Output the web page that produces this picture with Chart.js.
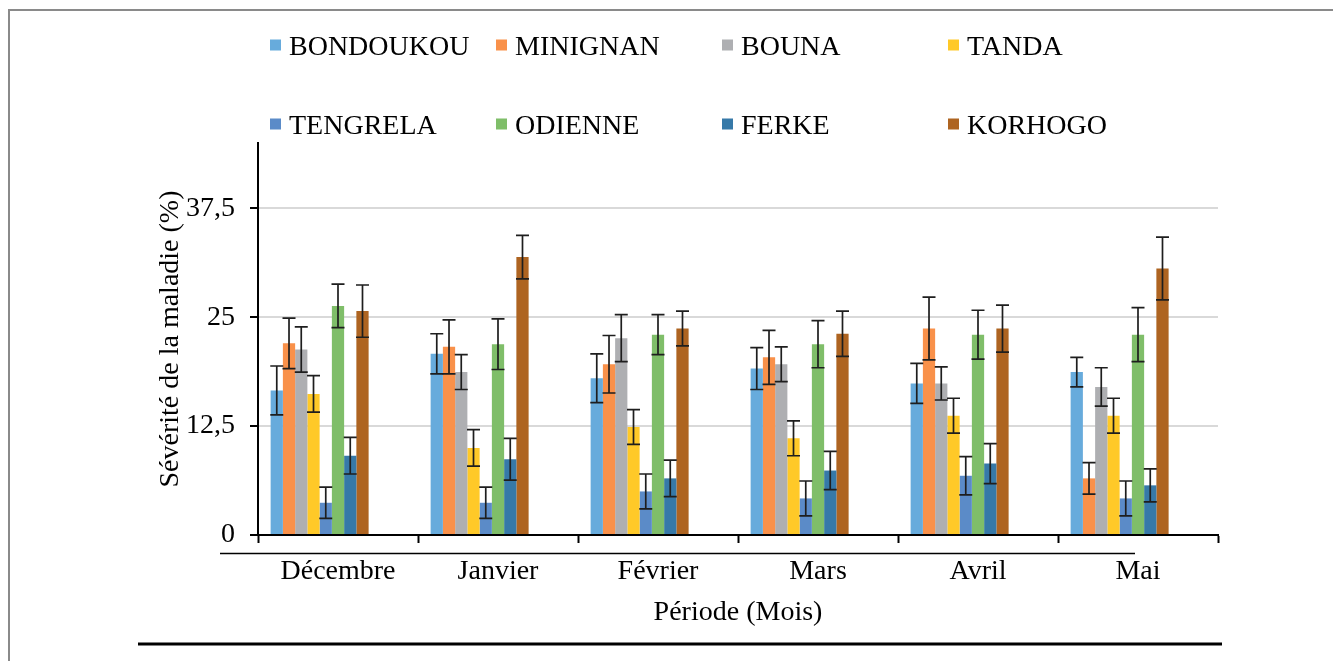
<!DOCTYPE html>
<html lang="fr">
<head>
<meta charset="utf-8">
<title>Sévérité de la maladie par période</title>
<script src="https://cdn.jsdelivr.net/npm/chart.js@4.4.1/dist/chart.umd.min.js"></script>
<style>
  html, body { margin: 0; padding: 0; background: #ffffff; }
  canvas { display: block; }
</style>
</head>
<body>
<canvas id="chart" width="1333" height="661"></canvas>
<script>
// Months on the x axis
const months = ['Décembre', 'Janvier', 'Février', 'Mars', 'Avril', 'Mai'];

// Y axis tick values
const yTicks = [0, 12.5, 25, 37.5];

// Mean severity (%) per locality and its standard error
const bondoukou    = [16.6, 20.8, 18.0, 19.1, 17.4, 18.7];
const bondoukouErr = [2.8, 2.3, 2.8, 2.4, 2.3, 1.7];
const minignan     = [22.0, 21.6, 19.6, 20.4, 23.7, 6.5];
const minignanErr  = [2.9, 3.1, 3.3, 3.1, 3.6, 1.8];
const bouna        = [21.3, 18.7, 22.6, 19.6, 17.4, 17.0];
const bounaErr     = [2.6, 2.0, 2.7, 2.0, 1.9, 2.2];
const tanda        = [16.2, 10.0, 12.4, 11.1, 13.7, 13.7];
const tandaErr     = [2.1, 2.1, 2.0, 2.0, 2.0, 2.0];
const tengrela     = [3.7, 3.7, 5.0, 4.2, 6.8, 4.2];
const tengrelaErr  = [1.8, 1.8, 2.0, 2.0, 2.2, 2.0];
const odienne      = [26.3, 21.9, 23.0, 21.9, 23.0, 23.0];
const odienneErr   = [2.5, 2.9, 2.3, 2.7, 2.8, 3.1];
const ferke        = [9.1, 8.7, 6.5, 7.4, 8.2, 5.7];
const ferkeErr     = [2.1, 2.4, 2.1, 2.2, 2.3, 1.9];
const korhogo      = [25.7, 31.9, 23.7, 23.1, 23.7, 30.6];
const korhogoErr   = [3.0, 2.5, 2.0, 2.6, 2.7, 3.6];

const series = [
  { label: 'BONDOUKOU', data: bondoukou, err: bondoukouErr, color: '#67abdc' },
  { label: 'MINIGNAN',  data: minignan,  err: minignanErr,  color: '#f9914a' },
  { label: 'BOUNA',     data: bouna,     err: bounaErr,     color: '#aeafb2' },
  { label: 'TANDA',     data: tanda,     err: tandaErr,     color: '#ffc928' },
  { label: 'TENGRELA',  data: tengrela,  err: tengrelaErr,  color: '#5b8bc8' },
  { label: 'ODIENNE',   data: odienne,   err: odienneErr,   color: '#7fbe69' },
  { label: 'FERKE',     data: ferke,     err: ferkeErr,     color: '#3679a8' },
  { label: 'KORHOGO',   data: korhogo,   err: korhogoErr,   color: '#ae6421' }
];

// Three empty slots after the eight localities keep each group to the left of its month band
const SPACERS = 3;

const FONT = "'Liberation Serif', 'Times New Roman', serif";
Chart.defaults.font.family = FONT;
Chart.defaults.color = '#000000';

const datasets = series.map(s => ({
  label: s.label,
  data: s.data,
  errors: s.err,
  backgroundColor: s.color,
  borderWidth: 0
}));
for (let k = 0; k < SPACERS; k++) {
  datasets.push({ label: '', data: months.map(() => null), spacer: true });
}

// Standard error whiskers drawn over every bar
const errorBars = {
  id: 'errorBars',
  afterDatasetsDraw(chart) {
    const { ctx } = chart;
    const y = chart.scales.y;
    ctx.save();
    ctx.strokeStyle = '#1e1e1e';
    ctx.lineWidth = 1.7;
    chart.data.datasets.forEach((ds, i) => {
      if (ds.spacer) return;
      const meta = chart.getDatasetMeta(i);
      meta.data.forEach((bar, j) => {
        const v = ds.data[j], e = ds.errors[j];
        const yt = y.getPixelForValue(v + e);
        const yb = y.getPixelForValue(v - e);
        const half = 6.5;
        ctx.beginPath();
        ctx.moveTo(bar.x, yt); ctx.lineTo(bar.x, yb);
        ctx.moveTo(bar.x - half, yt); ctx.lineTo(bar.x + half, yt);
        ctx.moveTo(bar.x - half, yb); ctx.lineTo(bar.x + half, yb);
        ctx.stroke();
      });
    });
    ctx.restore();
  }
};

// Two-row legend laid out on a fixed four-column grid
const gridLegend = {
  id: 'gridLegend',
  afterDraw(chart, args, opts) {
    const { ctx } = chart;
    ctx.save();
    ctx.font = `${opts.fontSize}px ${FONT}`;
    ctx.textBaseline = 'middle';
    ctx.textAlign = 'left';
    chart.data.datasets.filter(d => !d.spacer).forEach((ds, i) => {
      const col = i % opts.columns.length;
      const row = Math.floor(i / opts.columns.length);
      const x = opts.columns[col];
      const yc = opts.rows[row];
      ctx.fillStyle = ds.backgroundColor;
      ctx.fillRect(x, yc - opts.box / 2 - 3, opts.box, opts.box);
      ctx.fillStyle = '#000000';
      ctx.fillText(ds.label, x + opts.textGap, yc);
    });
    ctx.restore();
  }
};

// Page frame and rules around the figure
const pageRules = {
  id: 'pageRules',
  beforeDraw(chart) {
    const { ctx } = chart;
    ctx.save();
    ctx.fillStyle = '#ffffff';
    ctx.fillRect(0, 0, chart.width, chart.height);
    ctx.strokeStyle = '#8a8a8a';
    ctx.lineWidth = 2;
    ctx.beginPath();
    ctx.moveTo(9, chart.height); ctx.lineTo(9, 10); ctx.lineTo(chart.width, 10);
    ctx.stroke();
    ctx.restore();
  },
  afterDraw(chart) {
    const { ctx } = chart;
    ctx.save();
    ctx.strokeStyle = '#000000';
    ctx.lineWidth = 1.5;
    ctx.beginPath();
    ctx.moveTo(220, 553.5); ctx.lineTo(1135, 553.5);
    ctx.stroke();
    ctx.lineWidth = 3;
    ctx.beginPath();
    ctx.moveTo(138, 644); ctx.lineTo(1222, 644);
    ctx.stroke();
    ctx.restore();
  }
};

new Chart(document.getElementById('chart'), {
  type: 'bar',
  data: { labels: months, datasets },
  options: {
    responsive: false,
    animation: false,
    events: [],
    layout: { padding: { left: 154, right: 115, top: 143, bottom: 26 } },
    datasets: { bar: { categoryPercentage: 0.842, barPercentage: 1.0 } },
    plugins: {
      legend: { display: false },
      tooltip: { enabled: false },
      gridLegend: {
        fontSize: 28,
        columns: [270, 496, 722, 948],
        rows: [48, 127],
        box: 11,
        textGap: 19
      }
    },
    scales: {
      x: {
        offset: true,
        afterFit(scale) { scale.height = 100; },
        grid: {
          offset: true,
          drawOnChartArea: false,
          drawTicks: true,
          tickLength: 8,
          tickColor: '#000000',
          tickWidth: 2
        },
        border: { display: true, color: '#000000', width: 2 },
        ticks: { padding: 12, font: { size: 28 }, color: '#000000', maxRotation: 0 },
        title: {
          display: true,
          text: 'Période (Mois)',
          font: { size: 28 },
          color: '#000000',
          padding: { top: 0, bottom: 6 }
        }
      },
      y: {
        min: 0,
        max: 45,
        afterFit(scale) { scale.width = 104; },
        afterBuildTicks(scale) { scale.ticks = yTicks.map(v => ({ value: v })); },
        grid: {
          color: ctx => (ctx.tick && ctx.tick.value === 0 ? 'rgba(0,0,0,0)' : '#d9d9d9'),
          lineWidth: 2,
          drawTicks: true,
          tickLength: 8,
          tickColor: '#000000',
          tickWidth: 2
        },
        border: { display: true, color: '#000000', width: 2 },
        ticks: {
          padding: 15,
          font: { size: 28 },
          color: '#000000',
          callback: v => String(v).replace('.', ',')
        },
        title: {
          display: true,
          text: 'Sévérité de la maladie (%)',
          font: { size: 28 },
          color: '#000000',
          padding: { top: 0, bottom: 0 }
        }
      }
    }
  },
  plugins: [pageRules, errorBars, gridLegend]
});
</script>
</body>
</html>
